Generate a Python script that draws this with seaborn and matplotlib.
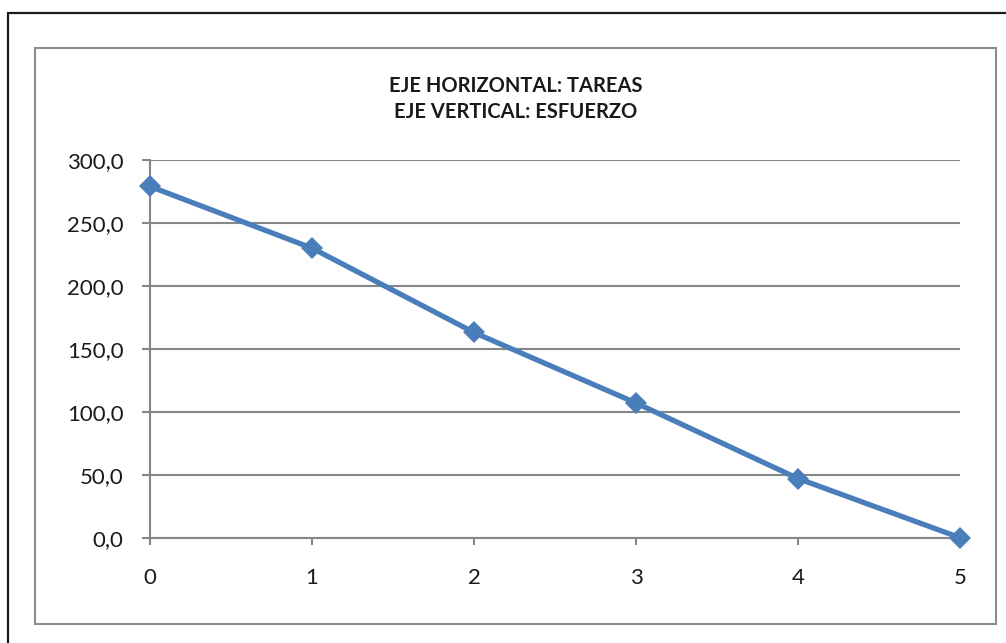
import matplotlib
matplotlib.use("Agg")
import matplotlib.pyplot as plt
from matplotlib.patches import Rectangle
from matplotlib.ticker import FuncFormatter
import seaborn as sns
import pandas as pd

# Effort remaining after each task
tareas = [0, 1, 2, 3, 4, 5]
esfuerzo = [279.0, 230.0, 163.0, 107.0, 47.0, 0.0]
y_ticks = [0, 50, 100, 150, 200, 250, 300]
titulo = "EJE HORIZONTAL: TAREAS\nEJE VERTICAL: ESFUERZO"

sns.set_theme(style="white")
plt.rcParams["font.family"] = ["Lato", "DejaVu Sans"]

W, H = 1006, 643
fig = plt.figure(figsize=(W / 100, H / 100), dpi=100)
fig.patch.set_facecolor("white")

# Outer page frame and inner chart frame (figure pixel coords)
fig.patches.append(Rectangle((8 / W, 1 - 1100 / H), 1100 / W, (1100 - 13) / H,
                             transform=fig.transFigure, fill=False,
                             edgecolor="#1a1a1a", linewidth=1.6))
fig.patches.append(Rectangle((35 / W, 1 - 624 / H), (996 - 35) / W, (624 - 48) / H,
                             transform=fig.transFigure, fill=False,
                             edgecolor="#8c8c8c", linewidth=1.5))

left, right, top, bottom = 150, 960, 160, 537.7
ax = fig.add_axes([left / W, 1 - bottom / H, (right - left) / W, (bottom - top) / H])

df = pd.DataFrame({"tareas": tareas, "esfuerzo": esfuerzo})
sns.lineplot(data=df, x="tareas", y="esfuerzo", ax=ax, color="#4a7ebb",
             linewidth=3.8, marker="D", markersize=11.5, markeredgewidth=0,
             zorder=5, clip_on=False)

ax.set_xlim(0, 5)
ax.set_ylim(0, 300)
ax.set_xticks(tareas)
ax.set_yticks(y_ticks)
ax.yaxis.set_major_formatter(FuncFormatter(lambda v, p: f"{v:.1f}".replace(".", ",")))
ax.set_xlabel("")
ax.set_ylabel("")

ax.grid(axis="y", color="#868686", linewidth=1.5)
ax.grid(axis="x", visible=False)
ax.set_axisbelow(True)
for s in ["top", "right"]:
    ax.spines[s].set_visible(False)
for s in ["left", "bottom"]:
    ax.spines[s].set_color("#868686")
    ax.spines[s].set_linewidth(1.5)

ax.tick_params(axis="y", which="major", left=True, length=6, width=1.5,
               color="#868686", pad=13, labelsize=16, labelcolor="#1a1a1a")
ax.tick_params(axis="x", which="major", bottom=True, length=5, width=1.5,
               color="#868686", pad=17, labelsize=16, labelcolor="#1a1a1a")

fig.text(516 / W, 1 - 99 / H, titulo, ha="center", va="center",
         fontsize=14.5, fontweight="bold", color="#1a1a1a", linespacing=1.4)

fig.savefig("out.png", dpi=100, facecolor="white")
